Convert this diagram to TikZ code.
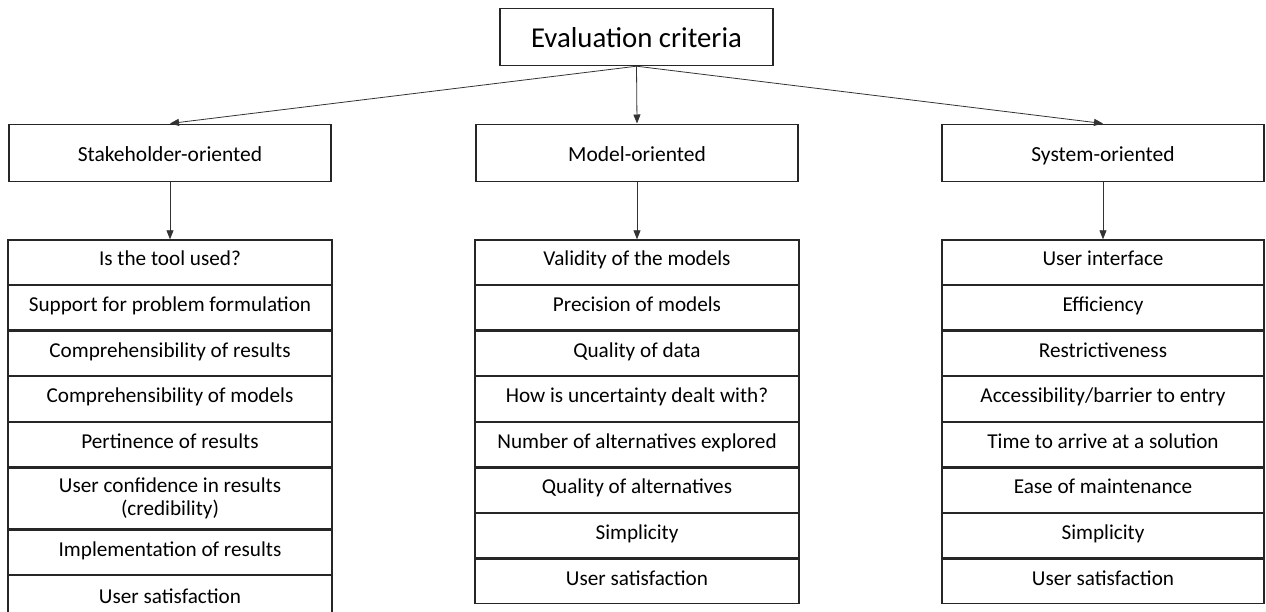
\documentclass[tikz,border=0pt]{standalone}
\usepackage{fontspec}
\setmainfont{Carlito}
\usetikzlibrary{arrows.meta}
\tikzset{
  box/.style={draw=black!85, line width=1.2pt, rectangle, inner sep=0pt, align=center, anchor=north},
  catbox/.style={box, minimum width=322pt, minimum height=57pt, font=\fontsize{21.5}{25}\selectfont, text height=17pt, text depth=0pt},
  rowbox/.style={box, minimum width=324pt, minimum height=44.4pt, font=\fontsize{21.2}{23}\selectfont, text height=15pt, text depth=7.6pt},
  tworow/.style={rowbox, minimum height=61pt, text height=35pt, text depth=0pt},
  sysrow/.style={rowbox, minimum width=322pt},
  conn/.style={draw=black!80, line width=0.8pt, -{Triangle[length=9pt,width=7pt]}},
}
\begin{document}
\begin{tikzpicture}[x=1pt,y=-1pt]
\useasboundingbox (0,0) rectangle (1266,611);
\clip (0,0) rectangle (1266,611);
\fill[white] (0,0) rectangle (1266,611);

\node[box, minimum width=273pt, minimum height=57pt, font=\fontsize{28.8}{32}\selectfont, text height=20pt, text depth=0pt] (top) at (636.5,8) {Evaluation criteria};

\node[catbox] (stake) at (170,123.5) {Stakeholder-oriented};
\node[catbox] (model) at (637,123.5) {Model-oriented};
\node[catbox] (sys) at (1103,123.5) {System-oriented};

\draw[conn] (top.south) -- (stake.north);
\draw[conn] (top.south) -- (model.north);
\draw[conn] (top.south) -- (sys.north);

% Stakeholder list
\node[rowbox] (s1) at (170,239.3) {Is the tool used?};
\node[rowbox] (s2) at (s1.south) {Support for problem formulation};
\node[rowbox] (s3) at (s2.south) {Comprehensibility of results};
\node[rowbox] (s4) at (s3.south) {Comprehensibility of models};
\node[rowbox] (s5) at (s4.south) {Pertinence of results};
\node[tworow] (s6) at (s5.south) {User confidence in results\\(credibility)};
\node[rowbox] (s7) at (s6.south) {Implementation of results};
\node[rowbox, minimum height=48pt] (s8) at (s7.south) {User satisfaction};

% Model list
\node[rowbox] (m1) at (637,239.3) {Validity of the models};
\node[rowbox] (m2) at (m1.south) {Precision of models};
\node[rowbox] (m3) at (m2.south) {Quality of data};
\node[rowbox] (m4) at (m3.south) {How is uncertainty dealt with?};
\node[rowbox] (m5) at (m4.south) {Number of alternatives explored};
\node[rowbox] (m6) at (m5.south) {Quality of alternatives};
\node[rowbox] (m7) at (m6.south) {Simplicity};
\node[rowbox] (m8) at (m7.south) {User satisfaction};

% System list
\node[sysrow] (y1) at (1103,239.3) {User interface};
\node[sysrow] (y2) at (y1.south) {Efficiency};
\node[sysrow] (y3) at (y2.south) {Restrictiveness};
\node[sysrow] (y4) at (y3.south) {Accessibility/barrier to entry};
\node[sysrow] (y5) at (y4.south) {Time to arrive at a solution};
\node[sysrow] (y6) at (y5.south) {Ease of maintenance};
\node[sysrow] (y7) at (y6.south) {Simplicity};
\node[sysrow] (y8) at (y7.south) {User satisfaction};

\draw[conn] (stake.south) -- (s1.north);
\draw[conn] (model.south) -- (m1.north);
\draw[conn] (sys.south) -- (y1.north);
\end{tikzpicture}
\end{document}
